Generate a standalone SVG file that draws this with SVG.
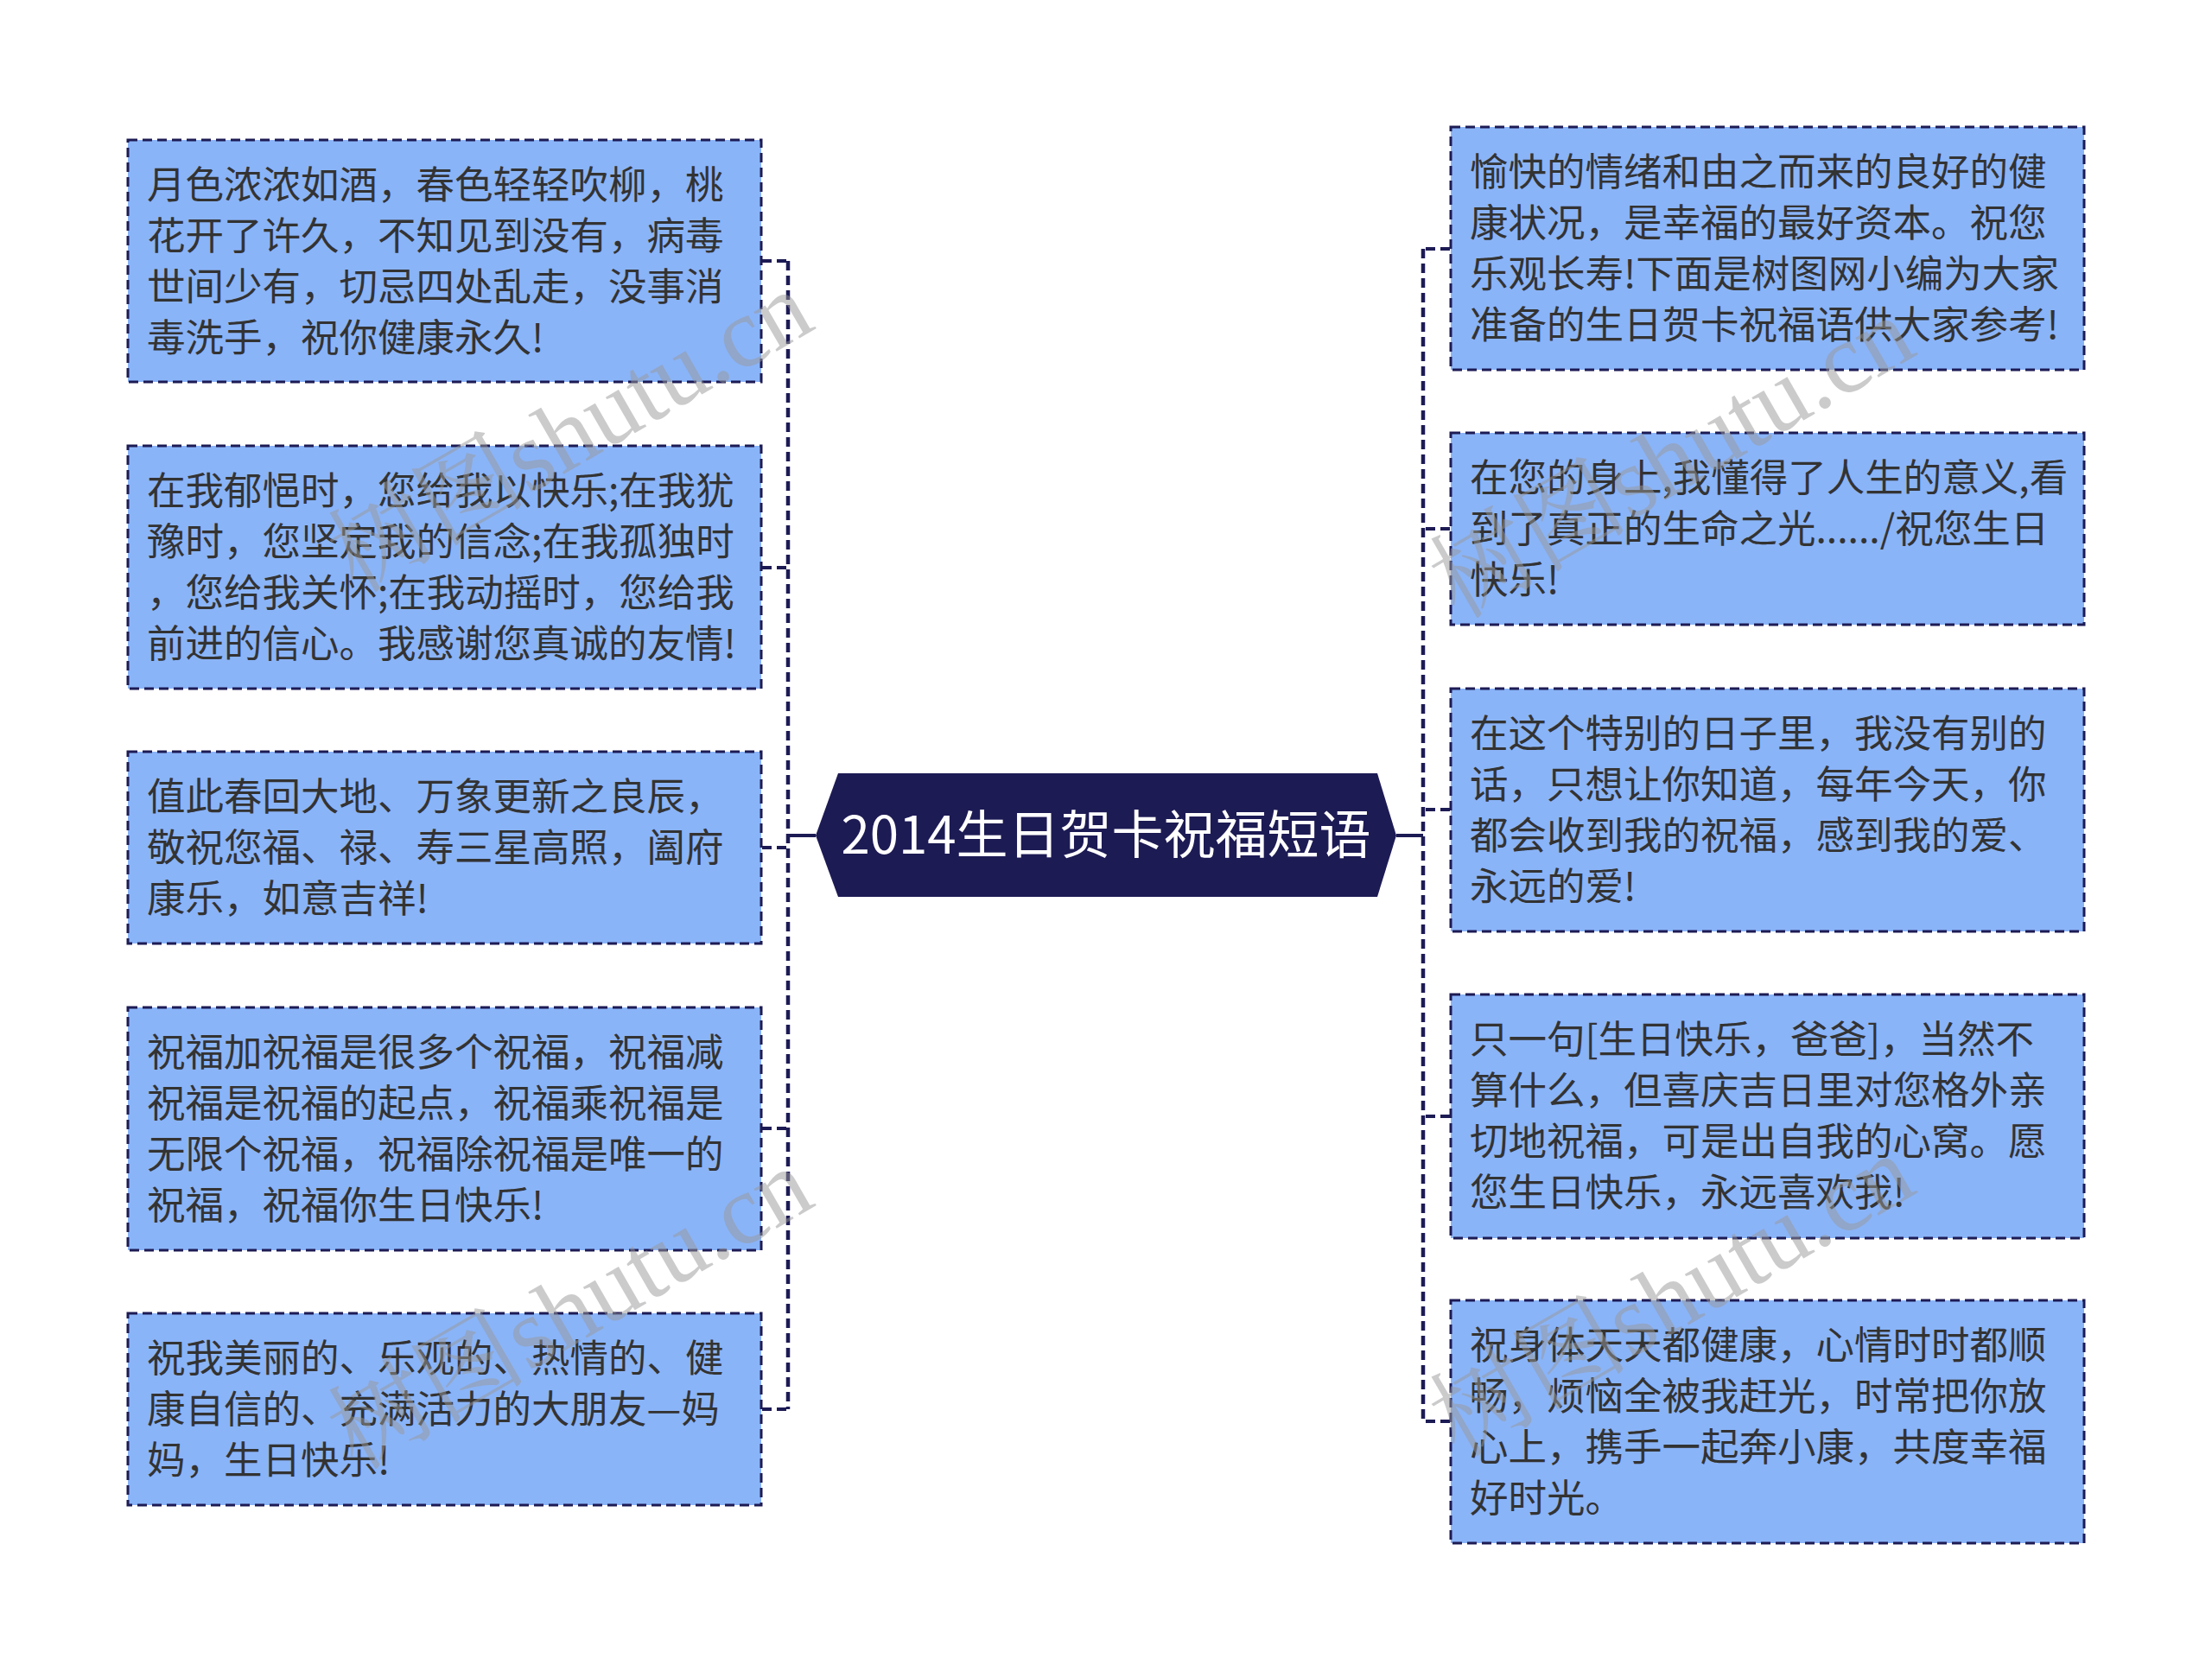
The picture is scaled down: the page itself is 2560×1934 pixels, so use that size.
<svg xmlns="http://www.w3.org/2000/svg" width="2560" height="1934" viewBox="0 0 2560 1934">
<style>
.box{fill:#8ab4f8;stroke:#1d1b54;stroke-width:3;stroke-dasharray:11 6}
.t{font-family:"Noto Sans CJK SC","Noto Sans",sans-serif;font-size:44.5px;fill:#333333}
.ct{font-family:"Noto Sans CJK SC","Noto Sans",sans-serif;font-size:60px;fill:#ffffff}
.c{fill:none;stroke:#1d1b54;stroke-width:4;stroke-dasharray:11 6}
.v{fill:none;stroke:#1d1b54;stroke-width:4.5;stroke-dasharray:11 6}
.wm{font-family:"Liberation Serif","Noto Serif CJK SC","Noto Sans CJK SC",serif;font-size:115px;fill:#999999;opacity:0.5}
</style>
<rect width="2560" height="1934" fill="#ffffff"/>
<g id="connectors">
<path class="v" d="M912 302 V1631"/>
<path class="v" d="M1647 288 V1645"/>
<path class="c" d="M882 302 H912"/>
<path class="c" d="M882 657 H912"/>
<path class="c" d="M882 981 H912"/>
<path class="c" d="M882 1306 H912"/>
<path class="c" d="M882 1631 H912"/>
<path class="c" d="M1678 288 H1647"/>
<path class="c" d="M1678 612 H1647"/>
<path class="c" d="M1678 937 H1647"/>
<path class="c" d="M1678 1292 H1647"/>
<path class="c" d="M1678 1645 H1647"/>
<line x1="912" y1="967" x2="944" y2="967" stroke="#1d1b54" stroke-width="4"/>
<line x1="1616" y1="967" x2="1647" y2="967" stroke="#1d1b54" stroke-width="4"/>
</g>
<g id="center">
<polygon points="944,967 970,895 1594,895 1616,967 1594,1038 970,1038" fill="#1d1b54"/>
<text class="ct" x="1280" y="988" text-anchor="middle">2014生日贺卡祝福短语</text>
</g>
<g id="L1">
<rect class="box" x="148" y="162" width="733" height="280"/>
<text class="t"><tspan x="170" y="230">月色浓浓如酒，春色轻轻吹柳，桃</tspan><tspan x="170" y="289">花开了许久，不知见到没有，病毒</tspan><tspan x="170" y="348">世间少有，切忌四处乱走，没事消</tspan><tspan x="170" y="407">毒洗手，祝你健康永久!</tspan></text>
</g>
<g id="L2">
<rect class="box" x="148" y="516" width="733" height="281"/>
<text class="t"><tspan x="170" y="584">在我郁悒时，您给我以快乐;在我犹</tspan><tspan x="170" y="643">豫时，您坚定我的信念;在我孤独时</tspan><tspan x="170" y="702">，您给我关怀;在我动摇时，您给我</tspan><tspan x="170" y="761">前进的信心。我感谢您真诚的友情!</tspan></text>
</g>
<g id="L3">
<rect class="box" x="148" y="870" width="733" height="222"/>
<text class="t"><tspan x="170" y="938">值此春回大地、万象更新之良辰，</tspan><tspan x="170" y="997">敬祝您福、禄、寿三星高照，阖府</tspan><tspan x="170" y="1056">康乐，如意吉祥!</tspan></text>
</g>
<g id="L4">
<rect class="box" x="148" y="1166" width="733" height="281"/>
<text class="t"><tspan x="170" y="1234">祝福加祝福是很多个祝福，祝福减</tspan><tspan x="170" y="1293">祝福是祝福的起点，祝福乘祝福是</tspan><tspan x="170" y="1352">无限个祝福，祝福除祝福是唯一的</tspan><tspan x="170" y="1411">祝福，祝福你生日快乐!</tspan></text>
</g>
<g id="L5">
<rect class="box" x="148" y="1520" width="733" height="222"/>
<text class="t"><tspan x="170" y="1588">祝我美丽的、乐观的、热情的、健</tspan><tspan x="170" y="1647">康自信的、充满活力的大朋友—妈</tspan><tspan x="170" y="1706">妈，生日快乐!</tspan></text>
</g>
<g id="R1">
<rect class="box" x="1679" y="147" width="733" height="281"/>
<text class="t"><tspan x="1701" y="215">愉快的情绪和由之而来的良好的健</tspan><tspan x="1701" y="274">康状况，是幸福的最好资本。祝您</tspan><tspan x="1701" y="333">乐观长寿!下面是树图网小编为大家</tspan><tspan x="1701" y="392">准备的生日贺卡祝福语供大家参考!</tspan></text>
</g>
<g id="R2">
<rect class="box" x="1679" y="501" width="733" height="222"/>
<text class="t"><tspan x="1701" y="569">在您的身上,我懂得了人生的意义,看</tspan><tspan x="1701" y="628">到了真正的生命之光....../祝您生日</tspan><tspan x="1701" y="687">快乐!</tspan></text>
</g>
<g id="R3">
<rect class="box" x="1679" y="797" width="733" height="281"/>
<text class="t"><tspan x="1701" y="865">在这个特别的日子里，我没有别的</tspan><tspan x="1701" y="924">话，只想让你知道，每年今天，你</tspan><tspan x="1701" y="983">都会收到我的祝福，感到我的爱、</tspan><tspan x="1701" y="1042">永远的爱!</tspan></text>
</g>
<g id="R4">
<rect class="box" x="1679" y="1151" width="733" height="282"/>
<text class="t"><tspan x="1701" y="1219">只一句[生日快乐，爸爸]，当然不</tspan><tspan x="1701" y="1278">算什么，但喜庆吉日里对您格外亲</tspan><tspan x="1701" y="1337">切地祝福，可是出自我的心窝。愿</tspan><tspan x="1701" y="1396">您生日快乐，永远喜欢我!</tspan></text>
</g>
<g id="R5">
<rect class="box" x="1679" y="1505" width="733" height="281"/>
<text class="t"><tspan x="1701" y="1573">祝身体天天都健康，心情时时都顺</tspan><tspan x="1701" y="1632">畅，烦恼全被我赶光，时常把你放</tspan><tspan x="1701" y="1691">心上，携手一起奔小康，共度幸福</tspan><tspan x="1701" y="1750">好时光。</tspan></text>
</g>
<g id="watermarks">
<text class="wm" x="660" y="500" text-anchor="middle" dominant-baseline="central" transform="rotate(-30 660 500)">树图shutu.cn</text>
<text class="wm" x="660" y="1515" text-anchor="middle" dominant-baseline="central" transform="rotate(-30 660 1515)">树图shutu.cn</text>
<text class="wm" x="1935" y="530" text-anchor="middle" dominant-baseline="central" transform="rotate(-30 1935 530)">树图shutu.cn</text>
<text class="wm" x="1935" y="1500" text-anchor="middle" dominant-baseline="central" transform="rotate(-30 1935 1500)">树图shutu.cn</text>
</g>
</svg>
